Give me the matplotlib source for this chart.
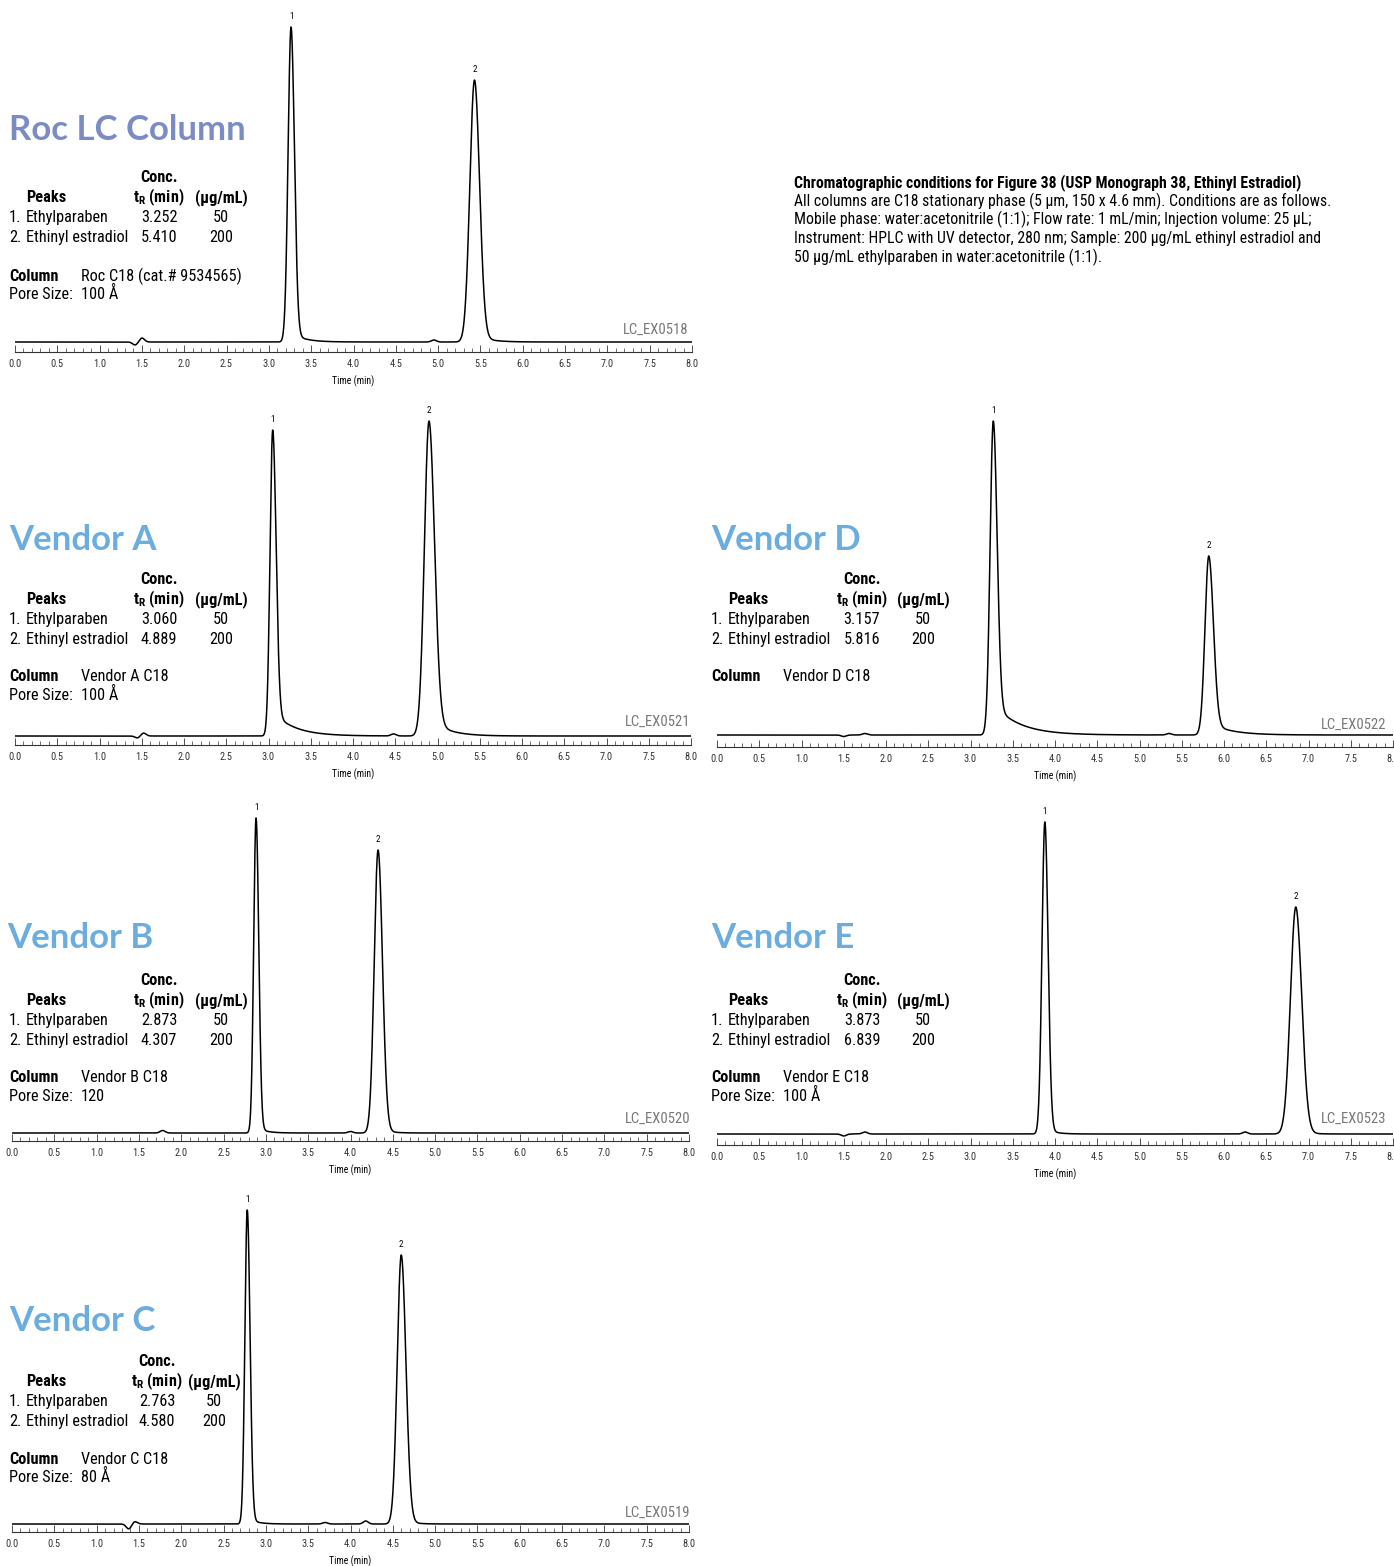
import numpy as np
import matplotlib
matplotlib.use('Agg')
import matplotlib.pyplot as plt
from matplotlib.ticker import MultipleLocator

W, H = 1394, 1566
NARROW = ['Roboto Condensed', 'Liberation Sans Narrow', 'Roboto', 'DejaVu Sans']
plt.rcParams['font.family'] = NARROW
plt.rcParams['mathtext.fontset'] = 'custom'
plt.rcParams['mathtext.rm'] = 'Roboto Condensed'
plt.rcParams['mathtext.bf'] = 'Roboto Condensed:bold'

# ---- data ----
names = ['Roc LC Column', 'Vendor A', 'Vendor D', 'Vendor B', 'Vendor E', 'Vendor C']
codes = ['LC_EX0518', 'LC_EX0521', 'LC_EX0522', 'LC_EX0520', 'LC_EX0523', 'LC_EX0519']
columns = ['Roc C18 (cat.# 9534565)', 'Vendor A C18', 'Vendor D C18',
           'Vendor B C18', 'Vendor E C18', 'Vendor C C18']
pore = ['100 Å', '100 Å', None, '120', '100 Å', '80 Å']
compounds = ['Ethylparaben', 'Ethinyl estradiol']
conc = ['50', '200']
tr_listed = [['3.252', '5.410'], ['3.060', '4.889'], ['3.157', '5.816'],
             ['2.873', '4.307'], ['3.873', '6.839'], ['2.763', '4.580']]

# apex time (min), apex height (a.u.), left/right width (min), tail fraction, tail decay (min)
apex_t = [[3.262, 5.43], [3.05, 4.90], [3.27, 5.82], [2.884, 4.326], [3.88, 6.85], [2.78, 4.60]]
apex_h = [[315, 262], [306, 315], [314, 179], [315, 283], [312, 227], [314, 269]]
sig_l = [[0.035, 0.055], [0.032, 0.055], [0.038, 0.045], [0.028, 0.046], [0.034, 0.064], [0.028, 0.048]]
sig_r = [[0.040, 0.060], [0.040, 0.065], [0.045, 0.055], [0.032, 0.052], [0.038, 0.070], [0.033, 0.055]]
tail_f = [[0.03, 0.03], [0.08, 0.06], [0.10, 0.07], [0.02, 0.02], [0.02, 0.02], [0.02, 0.02]]
tail_tau = [[0.15, 0.15], [0.25, 0.20], [0.30, 0.25], [0.10, 0.10], [0.10, 0.10], [0.10, 0.10]]

# small baseline disturbances (time, height)
bump_t = [[1.42, 1.50, 4.95], [1.45, 1.52, 4.48], [1.50, 1.75, 5.35],
          [1.78, 4.00], [1.50, 1.75, 6.25], [1.38, 1.45, 3.70, 4.18]]
bump_h = [[-3, 4, 2], [-2, 3, 2], [-1.5, 1.5, 1.5],
          [2.5, 1.5], [-2, 2, 2], [-5, 2.5, 1.5, 3]]

conditions = [
    'Chromatographic conditions for Figure 38 (USP Monograph 38, Ethinyl Estradiol)',
    'All columns are C18 stationary phase (5 µm, 150 x 4.6 mm). Conditions are as follows.',
    'Mobile phase: water:acetonitrile (1:1); Flow rate: 1 mL/min; Injection volume: 25 µL;',
    'Instrument: HPLC with UV detector, 280 nm; Sample: 200 µg/mL ethinyl estradiol and',
    '50 µg/mL ethylparaben in water:acetonitrile (1:1).',
]

# ---- layout (pixels) ----
# axis x0, x1, axis line y, baseline y
ax_box = [(15, 692, 352, 342), (15, 691, 745, 736), (717, 1393, 747, 735),
          (12, 689, 1141, 1133), (717, 1393, 1145, 1134), (12, 689, 1532, 1524)]
title_xy = [(9, 127), (9, 537), (711, 537), (7, 935), (711, 935), (9, 1318)]
table_x = [9, 9, 711, 9, 711, 9]
rows_y = [[176, 196, 216, 236, 275, 293], [578, 598, 618, 638, 675, 694],
          [578, 598, 618, 638, 675, 694], [979, 999, 1019, 1039, 1076, 1095],
          [979, 999, 1019, 1039, 1076, 1095], [1360, 1380, 1400, 1420, 1458, 1476]]
col_off = [(150, 212), (150, 212), (151, 212), (150, 212), (151, 212), (148, 205)]
code_xy = [(688, 329), (690, 721), (1386, 724), (690, 1118), (1386, 1118), (690, 1512)]
title_col = ['#7b8bc5', '#6badde', '#6badde', '#6badde', '#6badde', '#6badde']


def fx(x):
    return x / W


def fy(y):
    return 1 - y / H


def trace(t, k):
    y = np.zeros_like(t)
    for t0, h, sl, sr, f, tau in zip(apex_t[k], apex_h[k], sig_l[k], sig_r[k], tail_f[k], tail_tau[k]):
        d = t - t0
        left = h * np.exp(-0.5 * (d / sl) ** 2)
        dd = np.clip(d, 0, None)
        right = h * ((1 - f) * np.exp(-0.5 * (dd / sr) ** 2) + f * np.exp(-dd / tau))
        y += np.where(d < 0, left, right)
    for bt, bh in zip(bump_t[k], bump_h[k]):
        y += bh * np.exp(-0.5 * ((t - bt) / 0.03) ** 2)
    return y


fig = plt.figure(figsize=(W / 100, H / 100), dpi=100)
t = np.linspace(0, 8, 6001)
TXT = 11.7
for k in range(6):
    x0, x1, ay, by = ax_box[k]
    top = by - 330
    ax = fig.add_axes([fx(x0), fy(ay), (x1 - x0) / W, (ay - top) / H])
    ax.plot(t, trace(t, k), color='black', lw=1.1)
    ax.set_xlim(0, 8)
    ax.set_ylim(-(ay - by), by - top)
    for s in ['top', 'left', 'right']:
        ax.spines[s].set_visible(False)
    ax.spines['bottom'].set_color('#333333')
    ax.spines['bottom'].set_linewidth(0.8)
    ax.set_yticks([])
    ax.xaxis.set_major_locator(MultipleLocator(0.5))
    ax.xaxis.set_minor_locator(MultipleLocator(0.1))
    ax.xaxis.set_major_formatter(matplotlib.ticker.FormatStrFormatter('%.1f'))
    ax.tick_params(axis='x', which='major', direction='in', length=5, width=0.6,
                   labelsize=7.5, pad=5, colors='#333333')
    ax.tick_params(axis='x', which='minor', direction='in', length=3, width=0.5, colors='#333333')
    ax.set_xlabel('Time (min)', fontsize=7, labelpad=5)
    ax.patch.set_alpha(0)
    for i, (pt, ph) in enumerate(zip(apex_t[k], apex_h[k])):
        ax.annotate(str(i + 1), (pt, ph), xytext=(0, 4), textcoords='offset points',
                    ha='center', va='bottom', fontsize=6.5, annotation_clip=False)

    # title and peak table
    tx, ty = title_xy[k]
    fig.text(fx(tx), fy(ty + 13), names[k], fontsize=25, fontweight='bold',
             family=['Lato', 'DejaVu Sans'], color=title_col[k], va='baseline')
    lx = table_x[k]
    ry = rows_y[k]
    c1, c2 = col_off[k]
    b = 6
    fig.text(fx(lx + c1), fy(ry[0] + b), 'Conc.', fontsize=TXT, fontweight='bold', ha='center', va='baseline')
    fig.text(fx(lx + 17), fy(ry[1] + b), 'Peaks', fontsize=TXT, fontweight='bold', va='baseline')
    fig.text(fx(lx + c1), fy(ry[1] + b), r'$\mathbf{t_R}$ (min)', fontsize=TXT, fontweight='bold',
             ha='center', va='baseline')
    fig.text(fx(lx + c2), fy(ry[1] + b), '(µg/mL)', fontsize=TXT, fontweight='bold', ha='center', va='baseline')
    for i in range(2):
        yy = fy(ry[2 + i] + b)
        fig.text(fx(lx), yy, f'{i + 1}.', fontsize=TXT, va='baseline')
        fig.text(fx(lx + 17), yy, compounds[i], fontsize=TXT, va='baseline')
        fig.text(fx(lx + c1), yy, tr_listed[k][i], fontsize=TXT, ha='center', va='baseline')
        fig.text(fx(lx + c2), yy, conc[i], fontsize=TXT, ha='center', va='baseline')
    fig.text(fx(lx), fy(ry[4] + b), 'Column', fontsize=TXT, fontweight='bold', va='baseline')
    fig.text(fx(lx + 72), fy(ry[4] + b), columns[k], fontsize=TXT, va='baseline')
    if pore[k]:
        fig.text(fx(lx), fy(ry[5] + b), 'Pore Size:', fontsize=TXT, va='baseline')
        fig.text(fx(lx + 72), fy(ry[5] + b), pore[k], fontsize=TXT, va='baseline')
    cx, cy = code_xy[k]
    fig.text(fx(cx), fy(cy + 5), codes[k], fontsize=10.5, color='#777777', ha='right', va='baseline')

# conditions block
for i, line in enumerate(conditions):
    fig.text(fx(794), fy(181 + i * 18.75 + 6), line, fontsize=11.3,
             fontweight='bold' if i == 0 else 'normal', va='baseline')

fig.savefig('out.png', dpi=100)
